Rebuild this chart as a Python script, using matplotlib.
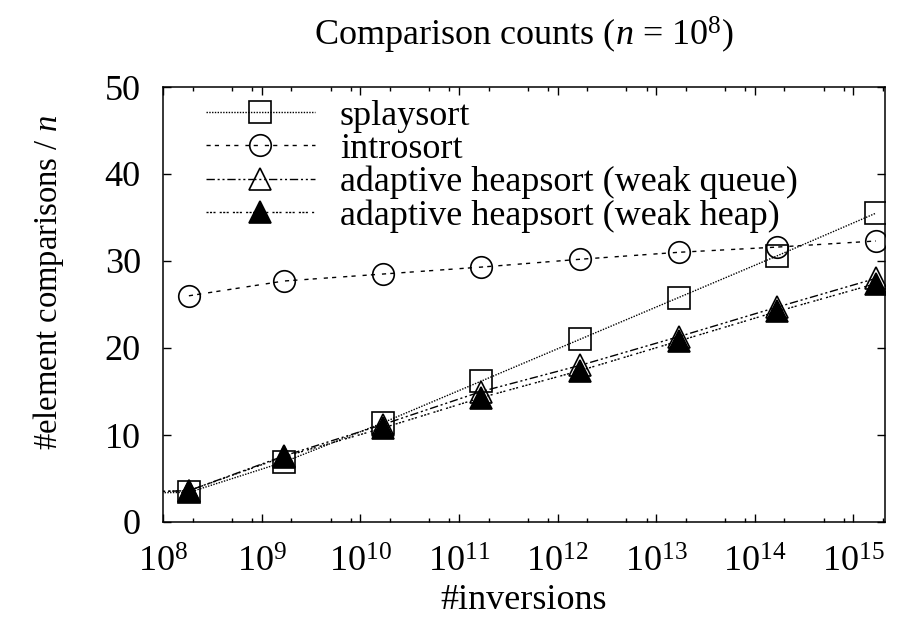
import numpy as np
import matplotlib
matplotlib.use("Agg")
import matplotlib.pyplot as plt
from matplotlib.ticker import LogLocator, LogFormatterMathtext, NullLocator, MultipleLocator

plt.rcParams["font.family"] = ["Liberation Serif", "DejaVu Serif"]
plt.rcParams["mathtext.fontset"] = "custom"
plt.rcParams["mathtext.rm"] = "Liberation Serif"
plt.rcParams["mathtext.it"] = "Liberation Serif:italic"

# inversions (first point lies left of the axis range, lines run in from the edge)
inversions = [1.8e7, 1.83e8, 1.69e9, 1.69e10, 1.69e11, 1.69e12, 1.69e13, 1.69e14, 1.69e15]
inv_intro = inversions[1:]

splaysort = [3.3, 3.4, 6.9, 11.4, 16.2, 21.0, 25.8, 30.6, 35.5]
introsort = [26.0, 27.7, 28.5, 29.3, 30.2, 31.0, 31.6, 32.3]
weak_queue = [3.3, 3.6, 7.6, 11.2, 15.0, 18.0, 21.3, 24.7, 28.0]
weak_heap = [3.3, 3.6, 7.5, 10.8, 14.3, 17.4, 20.8, 24.2, 27.4]

labels = ["splaysort", "introsort",
          "adaptive heapsort (weak queue)", "adaptive heapsort (weak heap)"]

fig = plt.figure(figsize=(9.01, 6.31), dpi=100)
ax = fig.add_axes([163 / 901, 1 - 522 / 631, (885 - 163) / 901, (522 - 87) / 631])

ms = 15.5
mew = 1.2
lw = 1.0
ax.plot(inversions, splaysort, color="black", lw=lw, ls=(0, (1, 1)),
        marker="s", ms=ms, mfc="none", mec="black", mew=mew, label=labels[0])
ax.plot(inv_intro, introsort, color="black", lw=lw, ls=(0, (3, 3, 3, 5)),
        marker="o", ms=ms, mfc="none", mec="black", mew=mew, label=labels[1])
ax.plot(inversions, weak_queue, color="black", lw=lw, ls=(0, (6, 2, 1.5, 2, 1.5, 2)),
        marker="^", ms=ms, mfc="none", mec="black", mew=mew, label=labels[2])
ax.plot(inversions, weak_heap, color="black", lw=lw, ls=(0, (1.5, 1, 1.5, 1, 1.5, 3)),
        marker="^", ms=ms, mfc="black", mec="black", mew=mew, label=labels[3])

ax.set_xscale("log")
ax.set_xlim(1e8, 10 ** 15.32)
ax.set_ylim(0, 50)
ax.xaxis.set_major_locator(LogLocator(base=10, numticks=20))
ax.xaxis.set_minor_locator(LogLocator(base=10, subs=(2, 5, 8), numticks=20))
ax.xaxis.set_major_formatter(LogFormatterMathtext())
ax.yaxis.set_major_locator(MultipleLocator(10))
ax.yaxis.set_minor_locator(NullLocator())

ax.tick_params(which="both", direction="in", top=True, right=True, labelsize=26, width=1.0)
ax.tick_params(which="major", length=6)
ax.tick_params(which="minor", length=3)
ax.tick_params(axis="y", pad=16)
ax.tick_params(axis="x", pad=18)
for sp in ax.spines.values():
    sp.set_linewidth(1.1)

ax.set_title(r"Comparison counts ($n$ = 10$^8$)", fontsize=26, pad=30)
ax.set_xlabel("#inversions", fontsize=26, labelpad=3)
ax.set_ylabel(r"#element comparisons / $n$", fontsize=23.5)
ax.yaxis.set_label_coords(-0.135, 0.55)

ax.legend(loc="upper left", bbox_to_anchor=(0.04, 1.005), frameon=False, fontsize=26,
          handlelength=3.0, handletextpad=0.7, labelspacing=0.0, numpoints=1,
          borderaxespad=0.0)

fig.savefig("out.png", dpi=100)
